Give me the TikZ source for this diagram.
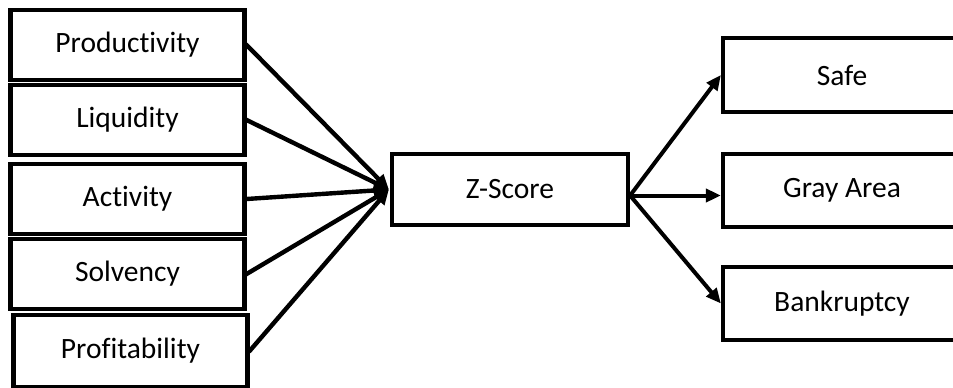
\documentclass[tikz,border=0pt]{standalone}
\usepackage{fontspec}
\setmainfont{Carlito}[Ligatures=NoCommon]
\usetikzlibrary{arrows.meta}
\begin{document}
\begin{tikzpicture}[x=1pt,y=-1pt,
  box/.style={draw=black,line width=4.2pt,minimum width=234pt,minimum height=70pt,
    inner sep=0pt,font=\fontsize{29.5}{34}\selectfont,fill=white},
  link/.style={line width=4.4pt,-{Triangle[length=15pt,width=13pt]},shorten <=-1pt}]
\useasboundingbox (0,0) rectangle (953,388);
\clip (0,0) rectangle (953,388);
% factor boxes
\node[box] (prod) at (127.5,45) {Productivity};
\node[box] (liq)  at (127.5,120) {Liquidity};
\node[box] (act)  at (127.5,199) {Activity};
\node[box] (solv) at (127.5,274) {Solvency};
\node[box,minimum height=72pt] (prof) at (130.5,351) {Profitability};
% central score
\node[box,minimum width=236pt,minimum height=71pt] (zs) at (510,189.5) {Z-Score};
% outcome boxes (running past the right edge)
\node[box,minimum width=238pt,minimum height=74pt] (safe) at (842,75) {Safe};
\node[box,minimum width=238pt,minimum height=73pt] (gray) at (842,190.5) {Gray Area};
\node[box,minimum width=238pt,minimum height=73pt] (bank) at (842,303.5) {Bankruptcy};
% connectors into the score
\coordinate (zin) at ([xshift=-1pt]zs.west);
\foreach \n in {prod,liq,act,solv,prof}
  \draw[link] (\n.east) -- (zin);
% connectors out of the score
\coordinate (zout) at ([yshift=-6pt]zs.east);
\draw[link,line width=4pt] (zout) -- (safe.west);
\draw[link,line width=4pt] (zout) -- (zout -| gray.west);
\draw[link,line width=4pt] (zout) -- (bank.west);
\end{tikzpicture}
\end{document}
